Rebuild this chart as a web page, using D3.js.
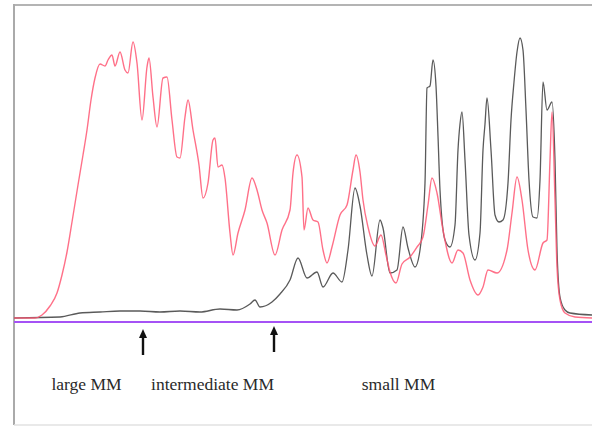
<!DOCTYPE html>
<html>
<head>
<meta charset="utf-8">
<script src="https://cdn.jsdelivr.net/npm/d3@7"></script>
<style>
  html, body { margin: 0; padding: 0; background: #fff; }
  svg { display: block; }
</style>
</head>
<body>
<div id="chart"></div>
<script>
// Elution profiles: red = total trace, black = second trace. x in minutes, y relative units.
const redTime = [0, 2.1, 2.8, 3.6, 4.3, 4.8, 5.3, 5.8, 6.4, 6.9, 7.3, 7.7, 8.1, 8.6, 9.1, 9.4, 9.8, 10.1, 10.6, 11.1,
  11.4, 11.9, 12.3, 12.8, 13.3, 13.5, 13.9, 14.3, 14.9, 15.3, 15.8, 16.3, 16.6, 17.1, 17.4, 17.9, 18.5, 18.9, 19.4, 19.9,
  20.1, 20.4, 20.8, 21.1, 21.6, 21.9, 22.4, 23.1, 23.8, 24.3, 24.8, 25.3, 26.1, 26.8, 27.6, 27.9, 28.3, 28.8, 29.0, 29.4,
  29.9, 30.4, 30.9, 31.3, 31.8, 32.6, 33.3, 33.9, 34.2, 34.6, 34.9, 35.4, 36.1, 36.7, 37.2, 37.6, 38.2, 38.8, 39.6, 40.3,
  40.9, 41.4, 41.8, 42.3, 42.9, 43.8, 44.4, 44.9, 45.6, 46.4, 46.9, 47.4, 48.3, 49.3, 49.8, 50.3, 50.8, 51.4, 52.1, 52.9,
  53.3, 53.6, 53.8, 54.1, 54.3, 54.6, 55.1, 56.1, 57.8];
const redSignal = [0, 0, 1.5, 6, 12.5, 21.5, 33, 48, 66.5, 81.5, 94, 109, 120, 127, 126, 129, 131.5, 126, 133, 124,
  122.5, 138, 127.5, 99, 125.5, 130, 110.5, 95.5, 120, 120.5, 99, 80.5, 80, 100.5, 109, 94, 76.5, 60, 67.5, 89,
  90, 75.5, 76.5, 70, 42.5, 31.5, 42.5, 54, 70, 64, 54, 47.5, 31.5, 44, 54, 72.5, 81.5, 70.5, 44, 55,
  49, 48, 34, 27.5, 35.5, 51.5, 56.5, 74, 81.5, 73, 59, 45.5, 36, 41.5, 31.5, 23, 17.5, 27, 30.5, 35.5,
  40.5, 56.5, 70, 62.5, 44, 27.5, 34, 32.5, 19, 11.5, 15.5, 24, 22.5, 34, 52.5, 70.5, 59, 34, 24, 37.5,
  39, 79, 103, 59, 25.5, 9, 2.5, 0.5, 0];

const blackTime = [0, 4.6, 6.6, 8.6, 10.6, 12.6, 14.6, 16.6, 18.6, 20.6, 22.3, 23.6, 24.1, 24.6, 25.8, 26.6, 27.6, 28.4,
  29.3, 30.3, 30.9, 31.9, 32.8, 33.4, 34.1, 34.6, 35.3, 35.8, 36.6, 36.9, 37.6, 38.3, 38.9, 39.4, 40.1, 40.6, 41.1, 41.3,
  41.6, 41.9, 42.2, 42.4, 42.6, 43.1, 43.6, 44.1, 44.4, 44.6, 44.8, 45.1, 45.5, 46.1, 46.6, 46.9, 47.1, 47.3, 47.7, 48.1,
  48.5, 48.9, 49.4, 49.7, 50.0, 50.3, 50.6, 50.9, 51.2, 51.5, 51.9, 52.3, 52.6, 52.9, 53.3, 53.8, 54.1, 54.3, 54.6, 55.1,
  55.6, 57.8];
const blackSignal = [0, 0.5, 2.5, 3, 3.5, 3.5, 3, 3.5, 3, 4.5, 4, 7, 9, 5.5, 8, 12, 19, 30,
  20, 23, 15.5, 22.5, 18, 34, 65, 56, 31.5, 21, 49, 45, 22.5, 24, 45.5, 35, 25.5, 34, 67.5, 115,
  116, 129, 116, 91, 64, 39, 35.5, 46.5, 84, 97, 103, 79, 41.5, 29, 42.5, 84, 97, 110, 84, 51.5,
  48, 49, 67.5, 99, 118, 133, 140, 134, 104, 69, 50.5, 50, 69, 118, 104, 108, 79, 34, 10.5, 4,
  2.5, 1.5];

const arrowTimes = [12.9, 26.0];
const labelNames = ['large MM', 'intermediate MM', 'small MM'];
const labelTimes = [7.25, 19.85, 38.45];

const W = 592, H = 427;
const plot = { left: 14, right: 592, base: 318, top: 38 };

const svg = d3.select('#chart').append('svg')
  .attr('width', W).attr('height', H);

const x = d3.scaleLinear().domain([0, 57.8]).range([plot.left, plot.right]);
const y = d3.scaleLinear().domain([0, 140]).range([plot.base, plot.top]);

// frame
svg.append('line')
  .attr('x1', plot.left).attr('x2', W).attr('y1', 5).attr('y2', 5)
  .attr('stroke', '#b4b4b4').attr('stroke-width', 2);
svg.append('line')
  .attr('x1', plot.left).attr('x2', plot.left).attr('y1', 4).attr('y2', 425)
  .attr('stroke', '#aaaaaa').attr('stroke-width', 2);
svg.append('line')
  .attr('x1', plot.left).attr('x2', W).attr('y1', 425).attr('y2', 425)
  .attr('stroke', '#e2e2e2').attr('stroke-width', 1.5);

const line = d3.line()
  .x(d => x(d[0]))
  .y(d => y(d[1]))
  .curve(d3.curveMonotoneX);

svg.append('path')
  .datum(d3.zip(blackTime, blackSignal))
  .attr('d', line)
  .attr('fill', 'none')
  .attr('stroke', '#5a5a5a')
  .attr('stroke-width', 1.3);

svg.append('path')
  .datum(d3.zip(redTime, redSignal))
  .attr('d', line)
  .attr('fill', 'none')
  .attr('stroke', '#ff5773')
  .attr('stroke-opacity', 0.85)
  .attr('stroke-width', 1.4);

// purple baseline
svg.append('line')
  .attr('x1', plot.left).attr('x2', W)
  .attr('y1', plot.base + 4).attr('y2', plot.base + 4)
  .attr('stroke', '#a552f5').attr('stroke-width', 2.2);

// arrows marking fraction cut points
const arrows = svg.append('g');
arrowTimes.forEach((t, i) => {
  const ax = x(t);
  const tip = i === 0 ? 329 : 326;
  arrows.append('line')
    .attr('x1', ax).attr('x2', ax)
    .attr('y1', tip + 6).attr('y2', tip + 26)
    .attr('stroke', '#111').attr('stroke-width', 2.4);
  arrows.append('path')
    .attr('d', `M${ax},${tip} L${ax - 4},${tip + 9} L${ax + 4},${tip + 9} Z`)
    .attr('fill', '#111');
});

// fraction labels
svg.append('g').selectAll('text')
  .data(labelNames)
  .join('text')
  .attr('x', (d, i) => x(labelTimes[i]))
  .attr('y', 390)
  .attr('text-anchor', 'middle')
  .attr('font-family', "'Liberation Serif', 'Times New Roman', serif")
  .attr('font-size', 17.5)
  .attr('fill', '#2a2a2a')
  .text(d => d);
</script>
</body>
</html>
